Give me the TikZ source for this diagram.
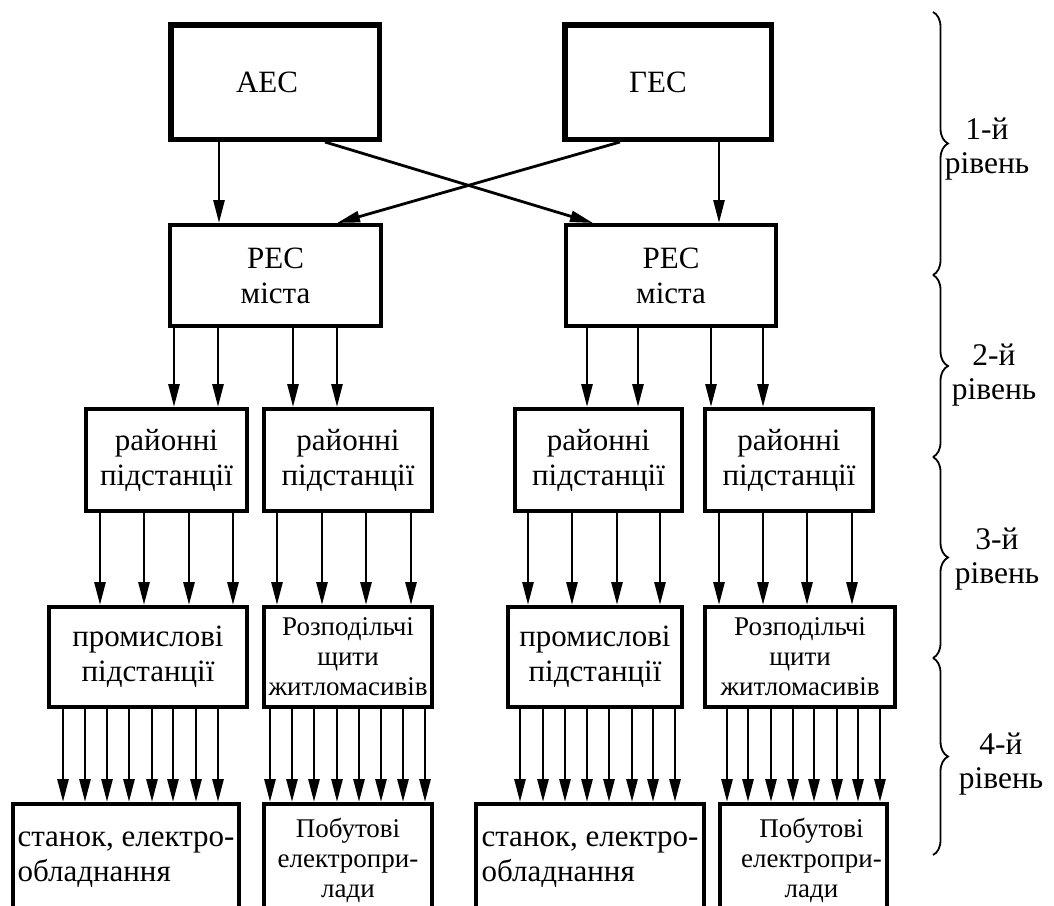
\documentclass[tikz,border=0pt]{standalone}
\usepackage{fontspec}
\setmainfont{Liberation Serif}
\usetikzlibrary{arrows.meta,decorations.pathreplacing}

\tikzset{
  bloc/.style={draw, line width=4pt, inner sep=0pt, align=center,
    font=\fontsize{31}{35}\selectfont},
  centrale/.style={bloc, line width=5.5pt},
  petit/.style={font=\fontsize{27}{30}\selectfont},
  fl/.style={-{Triangle[length=23pt,width=11pt]}, line width=2.8pt},
  accolade/.style={decorate, decoration={brace, amplitude=15pt}, line width=1.8pt},
  niveau/.style={align=center, font=\fontsize{31.5}{34}\selectfont}
}

\begin{document}
\begin{tikzpicture}[x=1pt,y=-1pt]
  \useasboundingbox (0,0) rectangle (1054,905);
  \clip (0,0) rectangle (1054,905);

   %centrales
   \node[centrale, minimum width=208.5, minimum height=114.5] (aes) at (275,82) {\kern-16pt АЕС};
   \node[centrale, minimum width=206.5, minimum height=114.5] (ges) at (668,82) {\kern-20pt ГЕС};
   \node[bloc, minimum width=211, minimum height=101] (res1) at (275.5,275.5) {РЕС\\міста};
   \node[bloc, minimum width=210, minimum height=101] (res2) at (671,275.5) {РЕС\\міста};

   %postes de quartier
   \node[bloc, minimum width=161, minimum height=102] (ray1) at (166.5,460) {районні\\підстанції};
   \node[bloc, minimum width=168, minimum height=102] (ray2) at (348,460) {районні\\підстанції};
   \node[bloc, minimum width=167, minimum height=102] (ray3) at (598.5,460) {районні\\підстанції};
   \node[bloc, minimum width=168, minimum height=102] (ray4) at (789,460) {районні\\підстанції};

   \node[bloc, minimum width=198, minimum height=100] (prom1) at (148,657) {промислові\\підстанції};
   \node[bloc, petit, minimum width=168, minimum height=100] (rozp1) at (348,657) {Розподільчі\\щити\\житломасивів};
   \node[bloc, minimum width=174, minimum height=100] (prom2) at (595,657) {промислові\\підстанції};
   \node[bloc, petit, minimum width=190, minimum height=100] (rozp2) at (800,657) {Розподільчі\\щити\\житломасивів};

   %consommateurs (coupes en bas)
   \node[bloc, align=left, minimum width=226, minimum height=112] (stan1) at (126,860) {станок, електро-\\обладнання};
   \node[bloc, petit, minimum width=168, minimum height=112] (pob1) at (348,860) {Побутові\\електропри-\\лади};
   \node[bloc, align=left, minimum width=228, minimum height=112] (stan2) at (590,860) {станок, електро-\\обладнання};
   \node[bloc, petit, minimum width=167, minimum height=112] (pob2) at (803.5,860)
     {\hspace*{16pt}Побутові\\\hspace*{16pt}електропри-\\\hspace*{16pt}лади};

   %fleches
   \draw[fl] (219,0 |- aes.south) -- (219,0 |- res1.north);
   \draw[fl] (719,0 |- ges.south) -- (719,0 |- res2.north);
   \draw[fl] (325,0 |- aes.south) -- (593,0 |- res2.north);
   \draw[fl] (620,0 |- ges.south) -- (337,0 |- res1.north);

   \foreach \x in {174,218,293,337}
     \draw[fl] (\x,0 |- res1.south) -- (\x,0 |- ray1.north);
   \foreach \x in {587,638,711,763}
     \draw[fl] (\x,0 |- res2.south) -- (\x,0 |- ray3.north);

   \foreach \x in {100,144,189,233}
     \draw[fl] (\x,0 |- ray1.south) -- (\x,0 |- prom1.north);
   \foreach \x in {277,322,366,411}
     \draw[fl] (\x,0 |- ray2.south) -- (\x,0 |- rozp1.north);
   \foreach \x in {528,572,617,660}
     \draw[fl] (\x,0 |- ray3.south) -- (\x,0 |- prom2.north);
   \foreach \x in {719,763,807,852}
     \draw[fl] (\x,0 |- ray4.south) -- (\x,0 |- rozp2.north);

   \foreach \x in {63,85,107,129,152,173,196,218}
     \draw[fl] (\x,0 |- prom1.south) -- (\x,0 |- stan1.north);
   \foreach \x in {270,292,314,337,359,381,403,425}
     \draw[fl] (\x,0 |- rozp1.south) -- (\x,0 |- pob1.north);
   \foreach \x in {520,543,565,587,609,632,653,675}
     \draw[fl] (\x,0 |- prom2.south) -- (\x,0 |- stan2.north);
   \foreach \x in {727,748,771,793,814,837,858,880}
     \draw[fl] (\x,0 |- rozp2.south) -- (\x,0 |- pob2.north);

   %accolades
   \draw[accolade] (933,12) -- (933,275);
   \draw[accolade] (933,275) -- (933,457);
   \draw[accolade] (933,457) -- (933,658);
   \draw[accolade] (933,658) -- (933,855);

   %texte
   \node[niveau] (niv1) at (987,149) {1-й\\рівень};
   \node[niveau] (niv2) at (994,375) {2-й\\рівень};
   \node[niveau] (niv3) at (997,559) {3-й\\рівень};
   \node[niveau] (niv4) at (1001,764) {4-й\\рівень};
\end{tikzpicture}
\end{document}
